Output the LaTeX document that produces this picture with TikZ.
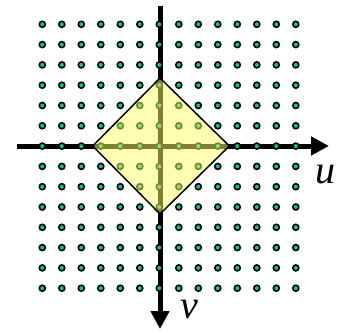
\documentclass[tikz,border=0pt]{standalone}
\usepackage{fontspec}
\setmainfont{Liberation Serif}
\usepackage{xcolor}
\usepackage{tikz}
\usetikzlibrary{
  arrows.meta,
  positioning
}
\definecolor{latticegreen}{RGB}{0, 204, 153}
\definecolor{regionyellow}{RGB}{255, 255, 100}
\tikzset{
  latticept/.style = {
    draw=black, line width=1.6pt, fill=latticegreen
  },
  axisline/.style = {
    draw=black, line width=5pt,
    -{Triangle[length=18pt, width=18pt]}
  },
  region/.style = {
    draw=black, line width=1.5pt,
    fill=regionyellow, fill opacity=0.5, draw opacity=1
  },
  axlbl/.style = {
    font=\fontsize{40}{40}\selectfont\itshape, inner sep=0pt
  },
}

\begin{document}
\begin{tikzpicture}[x=1pt, y=-1pt]

  \useasboundingbox (0,0) rectangle (344,331);

  \coordinate (o) at (160,146);

  % axes
  \coordinate (uL) at (17,146);
  \coordinate (uR) at (329,146);
  \coordinate (vT) at (160,6);
  \coordinate (vB) at (160,329);
  \draw[axisline] (uL) -- (uR);
  \draw[axisline] (vT) -- (vB);

  % integer lattice
  \foreach \i in {0,...,13} {
    \foreach \j in {0,...,13} {
      \draw[latticept] ({42.3+19.5*\i},{24.3+20.3*\j}) circle (3pt);
    }
  }

  % |u| + |v| <= r
  \coordinate (dT) at (160,78);
  \coordinate (dR) at (229.3,146);
  \coordinate (dB) at (160,214);
  \coordinate (dL) at (92.7,146);
  \draw[region] (dT) -- (dR) -- (dB) -- (dL) -- cycle;

  % labels
  \node[axlbl] (ulbl) at (325,175) {u};
  \node[axlbl] (vlbl) at (189,310) {v};

\end{tikzpicture}
\end{document}
